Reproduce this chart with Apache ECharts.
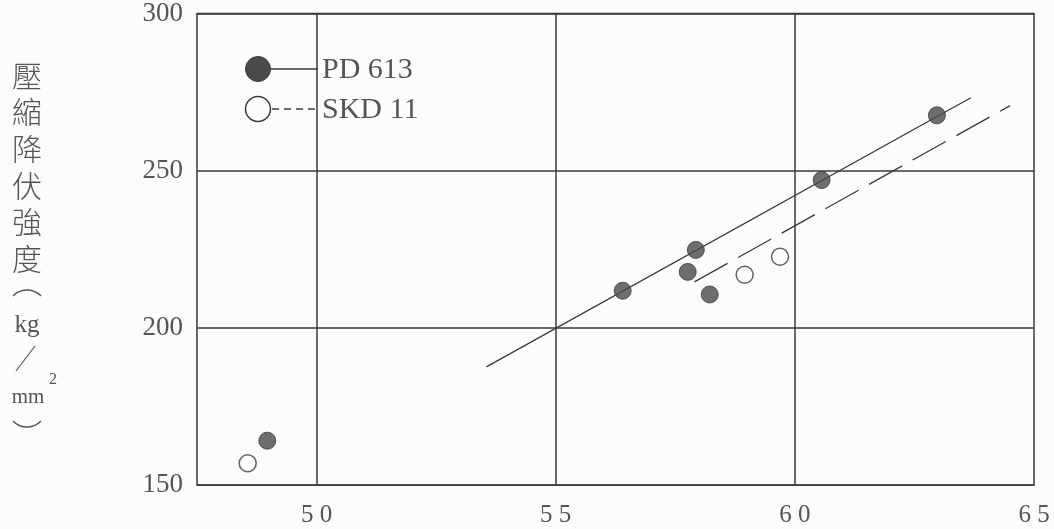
<!DOCTYPE html>
<html>
<head>
<meta charset="utf-8">
<script src="https://cdn.jsdelivr.net/npm/echarts@6/dist/echarts.min.js"></script>
<style>
html,body{margin:0;padding:0;background:#fdfcfd;}
#c{width:1054px;height:529px;}
</style>
</head>
<body>
<div id="c"></div>
<script>
// Data
const pd613 = [[48.97,164.1],[56.4,211.8],[57.76,217.8],[57.93,224.8],[58.22,210.6],[60.56,247.0],[62.97,267.6]];
const skd11 = [[48.56,156.9],[58.95,216.9],[59.69,222.6]];
const pdFit = [[53.55,187.6],[63.68,273.2]];
const skdFit = [[57.9,214.6],[64.5,270.7]];
const xTicks = [50,55,60,65];
const yTicks = [150,200,250,300];
const seriesNames = ['PD 613','SKD 11'];

const ink = '#3a3a3a';
const txt = '#555';
const serif = '"Liberation Serif","DejaVu Serif",serif';
const cjk = '"Noto Sans CJK TC","Noto Sans CJK JP",sans-serif';

const chart = echarts.init(document.getElementById('c'));
chart.setOption({
  backgroundColor:'#fdfcfd',
  animation:false,
  grid:{left:197,right:20,top:13,bottom:44,show:true,borderColor:ink,borderWidth:1.5,backgroundColor:'transparent'},
  xAxis:{type:'value',min:47.5,max:65,interval:2.5,
    axisLine:{show:false},axisTick:{show:false},splitLine:{show:false},
    axisLabel:{margin:18,fontFamily:serif,fontSize:25,color:txt,
      formatter:v=> xTicks.indexOf(v)>=0 ? String(v).split('').join(' ') : ''}},
  yAxis:{type:'value',min:150,max:300,interval:50,
    axisLine:{show:false},axisTick:{show:false},
    splitLine:{show:true,lineStyle:{color:ink,width:1.5}},
    axisLabel:{margin:14,fontFamily:serif,fontSize:27,color:txt,
      formatter:v=> yTicks.indexOf(v)>=0 ? String(v) : ''}},
  series:[
    {type:'line',data:pdFit,symbol:'none',lineStyle:{color:ink,width:1.3},z:2,
      markLine:{silent:true,symbol:'none',label:{show:false},
        lineStyle:{color:ink,width:1.5,type:'solid'},
        data:xTicks.slice(0,3).map(v=>({xAxis:v}))}},
    {type:'line',data:skdFit,symbol:'none',lineStyle:{color:ink,width:1.3,type:[38,12]},z:2},
    {name:seriesNames[0],type:'scatter',data:pd613,symbol:'circle',symbolSize:17,
      itemStyle:{color:'#4a4a4a',borderColor:'#3a3a3a',borderWidth:1},z:3},
    {name:seriesNames[1],type:'scatter',data:skd11,symbol:'circle',symbolSize:17,
      itemStyle:{color:'#fdfcfd',borderColor:'#3a3a3a',borderWidth:1.5},z:3}
  ],
  graphic:[
    // legend
    {type:'line',shape:{x1:262,y1:69,x2:318,y2:69},style:{stroke:ink,lineWidth:1.3},z:10},
    {type:'circle',shape:{cx:258,cy:69,r:12.5},style:{fill:'#4a4a4a',stroke:'#3a3a3a',lineWidth:1},z:11},
    {type:'text',x:322,y:70,style:{text:seriesNames[0],fontFamily:serif,fontSize:30,fill:txt,verticalAlign:'middle'},z:11},
    {type:'line',shape:{x1:272,y1:109,x2:318,y2:109},style:{stroke:ink,lineWidth:1.3,lineDash:[7,5]},z:10},
    {type:'circle',shape:{cx:258,cy:109,r:12.5},style:{fill:'#fdfcfd',stroke:'#3a3a3a',lineWidth:1.5},z:11},
    {type:'text',x:322,y:110,style:{text:seriesNames[1],fontFamily:serif,fontSize:30,fill:txt,verticalAlign:'middle'},z:11},
    // y-axis title (vertical)
    {type:'text',x:27,y:57,style:{text:'壓\n縮\n降\n伏\n強\n度',fontFamily:cjk,fontSize:30,fontWeight:300,lineHeight:36.6,fill:txt,align:'center',verticalAlign:'top'}},
    {type:'arc',shape:{cx:27,cy:309.3,r:19.3,startAngle:-Math.PI/2-0.81,endAngle:-Math.PI/2+0.81,clockwise:true},style:{stroke:txt,lineWidth:1.4,fill:null}},
    {type:'text',x:27,y:325,style:{text:'kg',fontFamily:serif,fontSize:25,fill:txt,align:'center',verticalAlign:'middle'}},
    {type:'line',shape:{x1:35,y1:346,x2:16,y2:371},style:{stroke:txt,lineWidth:1.2}},
    {type:'text',x:28,y:397,style:{text:'mm',fontFamily:serif,fontSize:21,fill:txt,align:'center',verticalAlign:'middle'}},
    {type:'text',x:53,y:380,style:{text:'2',fontFamily:serif,fontSize:16,fill:txt,align:'center',verticalAlign:'middle'}},
    {type:'arc',shape:{cx:27,cy:407.7,r:19.3,startAngle:Math.PI/2-0.81,endAngle:Math.PI/2+0.81,clockwise:true},style:{stroke:txt,lineWidth:1.4,fill:null}}
  ]
});
</script>
</body>
</html>
